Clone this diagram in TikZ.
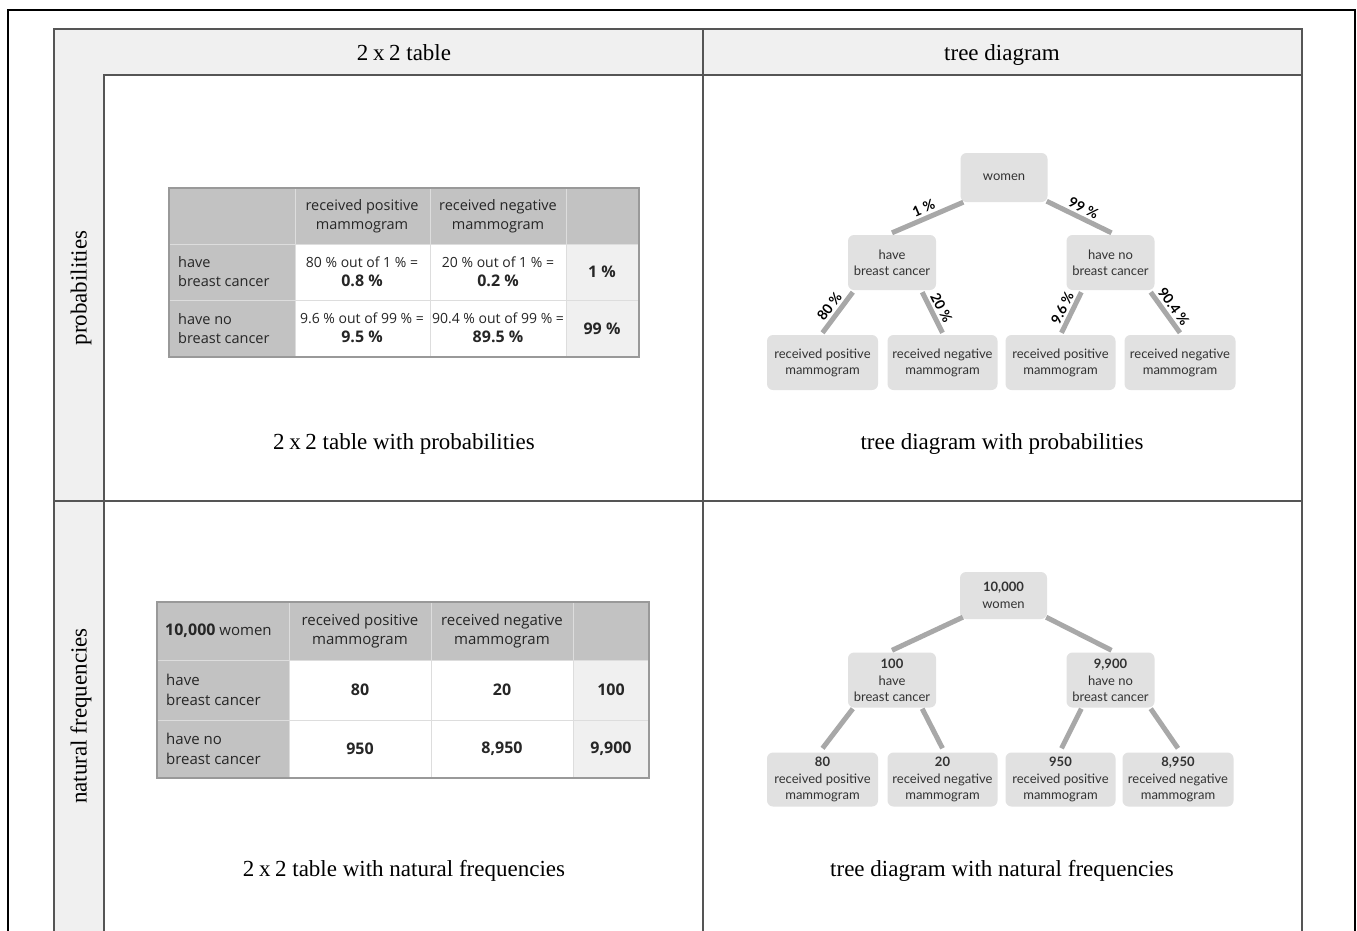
\documentclass[tikz,border=0pt]{standalone}
\usepackage{fontspec}
\setmainfont{Liberation Serif}
\newfontfamily\tabfont{Open Sans}
\newfontfamily\treefont{Lato}
\usetikzlibrary{calc}
\definecolor{band}{HTML}{F0F0F0}
\definecolor{frameline}{HTML}{555555}
\definecolor{hdr}{HTML}{C2C2C2}
\definecolor{lastcol}{HTML}{F0F0F0}
\definecolor{tline}{HTML}{999999}
\definecolor{tinner}{HTML}{DDDDDD}
\definecolor{treebox}{HTML}{E1E1E1}
\definecolor{edgec}{HTML}{A8A8A8}
\definecolor{treetext}{HTML}{333333}
\tikzset{
  captxt/.style={font=\fontsize{23}{27}\selectfont, inner sep=0},
  capbase/.style={captxt, anchor=base},
  tt/.style={font=\tabfont\fontsize{14.5}{19}\selectfont, align=center, inner sep=0, text=black!85},
  ttl/.style={tt, align=left, anchor=west},
  ttb/.style={tt, font=\tabfont\bfseries\fontsize{16}{19}\selectfont},
  uu/.style={tt, font=\tabfont\fontsize{15}{19.5}\selectfont},
  uul/.style={uu, align=left, anchor=west},
  uub/.style={tt, font=\tabfont\bfseries\fontsize{16}{19}\selectfont},
  tbox/.style={fill=treebox, rounded corners=6pt, font=\treefont\fontsize{13}{16}\selectfont, align=center, inner sep=0, text=treetext},
  edge/.style={draw=edgec, line width=5pt},
  elab/.style={font=\treefont\bfseries\fontsize{14}{15}\selectfont, sloped, above, inner sep=2.5pt, text=black},
  frm/.style={draw=frameline, line width=1.6pt},
  touter/.style={draw=tline, line width=1.4pt},
  tgrid/.style={draw=tinner, line width=1pt},
}
\newcommand{\tsmall}{\tabfont\fontsize{14}{19}\selectfont}
\newcommand{\tbig}{\bfseries\fontsize{16}{19}\selectfont}
\newcommand{\twox}{2\hskip0.2em x\hskip0.2em 2}
\begin{document}
\begin{tikzpicture}[x=1pt, y=-1pt]
\useasboundingbox (0,0) rectangle (1357,930);
% outer black frame
\draw[line width=2.8pt] (8,940) -- (8,10) -- (1355,10) -- (1355,940);
% grey bands
\fill[band] (54,29) rectangle (1302,75);
\fill[band] (54,75) rectangle (104,940);
% frame lines
\draw[frm] (54,940) -- (54,29) -- (1302,29) -- (1302,940);
\draw[frm] (104,940) -- (104,75) -- (1302,75);
\draw[frm] (703,29) -- (703,940);
\draw[frm] (54,501) -- (1302,501);
% headers
\node[capbase] (h1) at (404,60) {\twox\ table};
\node[capbase] (h2) at (1002,60) {tree diagram};
\node[captxt, rotate=90] (r1) at (81,288) {probabilities};
\node[captxt, rotate=90] (r2) at (81,716) {natural frequencies};
% captions
\node[capbase] (c1) at (404,449) {\twox\ table with probabilities};
\node[capbase] (c2) at (1002,449) {tree diagram with probabilities};
\node[capbase] (c3) at (404,876) {\twox\ table with natural frequencies};
\node[capbase] (c4) at (1002,876) {tree diagram with natural frequencies};

% ---------- table 1 ----------
\fill[white] (169,188) rectangle (639,357);
\fill[hdr] (169,188) rectangle (639,244);
\fill[hdr] (169,244) rectangle (295,357);
\fill[lastcol] (566,244) rectangle (639,357);
\draw[tgrid] (295,188) -- (295,357) (430,188) -- (430,357) (566,188) -- (566,357)
  (169,244) -- (639,244) (169,300) -- (639,300);
\draw[touter] (169,188) rectangle (639,357);
\node[tt] (t1h2) at (362,216) {received positive\\mammogram};
\node[tt] (t1h3) at (498,216) {received negative\\mammogram};
\node[ttl] (t1r1) at (178,272) {have\\breast cancer};
\node[ttl] (t1r2) at (178,329) {have no\\breast cancer};
\node[tt] (t1c11) at (362,272) {{\tsmall 80 \% out of 1 \% =}\\{\tbig 0.8 \%}};
\node[tt] (t1c12) at (498,272) {{\tsmall 20 \% out of 1 \% =}\\{\tbig 0.2 \%}};
\node[tt] (t1c21) at (362,328) {{\tsmall 9.6 \% out of 99 \% =}\\{\tbig 9.5 \%}};
\node[tt] (t1c22) at (498,328) {{\tsmall 90.4 \% out of 99 \% =}\\{\tbig 89.5 \%}};
\node[ttb] (t1s1) at (602,272) {1 \%};
\node[ttb] (t1s2) at (602,329) {99 \%};

% ---------- table 2 ----------
\fill[white] (157,602) rectangle (649,778);
\fill[hdr] (157,602) rectangle (649,660);
\fill[hdr] (157,660) rectangle (289,778);
\fill[lastcol] (573,660) rectangle (649,778);
\draw[tgrid] (289,602) -- (289,778) (431,602) -- (431,778) (573,602) -- (573,778)
  (157,660) -- (649,660) (157,720) -- (649,720);
\draw[touter] (157,602) rectangle (649,778);
\node[uul] (t2h1) at (165,631) {{\tbig 10,000} women};
\node[uu] (t2h2) at (360,631) {received positive\\mammogram};
\node[uu] (t2h3) at (502,631) {received negative\\mammogram};
\node[uul] (t2r1) at (166,690) {have\\breast cancer};
\node[uul] (t2r2) at (166,749) {have no\\breast cancer};
\node[uub] (t2c11) at (360,690) {80};
\node[uub] (t2c12) at (502,690) {20};
\node[uub] (t2c21) at (360,749) {950};
\node[uub] (t2c22) at (502,749) {8,950};
\node[uub] (t2s1) at (611,690) {100};
\node[uub] (t2s2) at (611,749) {9,900};

% ---------- tree 1 ----------
\node[tbox, minimum width=87pt, minimum height=49pt] (a0) at (1004,177.5) {women};
\node[tbox, minimum width=88pt, minimum height=55pt] (aL) at (892,262.5) {have\\breast cancer};
\node[tbox, minimum width=88pt, minimum height=55pt] (aR) at (1110.5,262.5) {have no\\breast cancer};
\node[tbox, minimum width=111pt, minimum height=55pt] (aLL) at (822.5,362.5) {received positive\\mammogram};
\node[tbox, minimum width=110pt, minimum height=55pt] (aLR) at (942.5,362.5) {received negative\\mammogram};
\node[tbox, minimum width=110pt, minimum height=55pt] (aRL) at (1060.5,362.5) {received positive\\mammogram};
\node[tbox, minimum width=111pt, minimum height=55pt] (aRR) at (1180,362.5) {received negative\\mammogram};
\draw[edge] ($(a0.south west)+(3,0)$) -- node[elab]{1 \%} ($(aL.north)+(0,-2)$);
\draw[edge] ($(a0.south east)+(-1,-1)$) -- node[elab]{99 \%} ($(aR.north)+(1,-2)$);
\draw[edge] ($(aL.south west)+(5,2)$) -- node[elab]{80 \%} ($(aLL.north)+(0,-2)$);
\draw[edge] ($(aL.south east)+(-14,2)$) -- node[elab]{20 \%} ($(aLR.north)+(0,-2)$);
\draw[edge] ($(aR.south west)+(15,2)$) -- node[elab]{9.6 \%} ($(aRL.north)+(1,-2)$);
\draw[edge] ($(aR.south east)+(-4,2)$) -- node[elab]{90.4 \%} ($(aRR.north)+(0,-2)$);

% ---------- tree 2 ----------
\node[tbox, minimum width=87pt, minimum height=47pt] (b0) at (1003.5,595.5) {\textbf{10,000}\\[1pt]women};
\node[tbox, minimum width=88pt, minimum height=55pt] (bL) at (892,680) {\textbf{100}\\[1pt]have\\breast cancer};
\node[tbox, minimum width=88pt, minimum height=55pt] (bR) at (1110.5,680) {\textbf{9,900}\\[1pt]have no\\breast cancer};
\node[tbox, minimum width=111pt, minimum height=54pt] (bLL) at (822.5,779.5) {\textbf{80}\\[1pt]received positive\\mammogram};
\node[tbox, minimum width=110pt, minimum height=54pt] (bLR) at (942.5,779.5) {\textbf{20}\\[1pt]received negative\\mammogram};
\node[tbox, minimum width=110pt, minimum height=54pt] (bRL) at (1060.5,779.5) {\textbf{950}\\[1pt]received positive\\mammogram};
\node[tbox, minimum width=111pt, minimum height=54pt] (bRR) at (1178,779.5) {\textbf{8,950}\\[1pt]received negative\\mammogram};
\draw[edge] ($(b0.south west)+(3,-2)$) -- ($(bL.north)+(0,-2)$);
\draw[edge] ($(b0.south east)+(-1,-2)$) -- ($(bR.north)+(1,-2)$);
\draw[edge] ($(bL.south west)+(5,1)$) -- ($(bLL.north)+(0,-4)$);
\draw[edge] ($(bL.south east)+(-14,1)$) -- ($(bLR.north)+(0,-4)$);
\draw[edge] ($(bR.south west)+(15,1)$) -- ($(bRL.north)+(1,-4)$);
\draw[edge] ($(bR.south east)+(-4,1)$) -- ($(bRR.north)+(0,-4)$);
\end{tikzpicture}
\end{document}
